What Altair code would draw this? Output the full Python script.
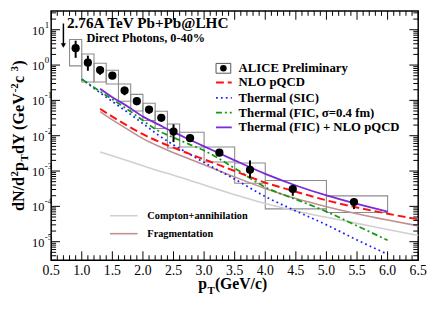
import altair as alt
import pandas as pd

# ---------------- data ----------------
alice_pt = [0.9, 1.1, 1.3, 1.5, 1.7, 1.9, 2.1, 2.3, 2.5, 2.77, 3.25, 3.75, 4.45, 5.45]
alice_y = [3.0, 1.17, 0.72, 0.50, 0.19, 0.095, 0.055, 0.032, 0.0131, 0.0085, 0.0033, 0.00108, 3.1e-4, 1.33e-4]
stat_lo = [1.6, 0.69, 0.53, 0.46, 0.14, 0.073, 0.042, 0.027, 0.0066, 0.0075, 0.0029, 0.00064, 2.0e-4, 8.4e-5]
stat_hi = [4.9, 1.85, 0.90, 0.55, 0.245, 0.12, 0.069, 0.037, 0.021, 0.0097, 0.0037, 0.0020, 4.1e-4, 1.7e-4]
bin_lo = [0.8, 1.0, 1.2, 1.4, 1.6, 1.8, 2.0, 2.2, 2.4, 2.6, 3.0, 3.5, 4.0, 5.0]
bin_hi = [1.0, 1.2, 1.4, 1.6, 1.8, 2.0, 2.2, 2.4, 2.6, 3.0, 3.5, 4.0, 5.0, 6.0]
sys_lo = [0.95, 0.33, 0.33, 0.29, 0.095, 0.05, 0.027, 0.016, 0.0045, 0.0048, 0.0018, 0.00045, 8.5e-5, 6.7e-5]
sys_hi = [5.3, 2.05, 1.12, 0.71, 0.29, 0.148, 0.083, 0.049, 0.0215, 0.0125, 0.0048, 0.00168, 5.4e-4, 1.98e-4]

purple_pt = [1.3, 1.5, 1.75, 2.0, 2.25, 2.5, 2.75, 3.0, 3.5, 4.0, 4.5, 5.0, 5.5, 6.0]
purple_y = [0.214, 0.123, 0.0676, 0.0347, 0.0209, 0.0126, 0.0079, 0.0050, 0.0020, 8.3e-4, 3.9e-4, 2.04e-4, 1.17e-4, 7.1e-5]

red_pt = [1.3, 1.5, 1.75, 2.0, 2.25, 2.5, 2.75, 3.0, 3.5, 4.0, 4.5, 5.0, 5.5, 6.0, 6.5]
red_y = [0.0575, 0.0347, 0.0191, 0.0110, 0.0069, 0.0046, 0.0031, 0.00214, 0.0010, 4.7e-4, 2.6e-4, 1.48e-4, 9.3e-5, 6.2e-5, 4.3e-5]

blue_pt = [1.0, 1.25, 1.5, 1.75, 2.0, 2.25, 2.5, 2.75, 3.0, 3.5, 4.0, 4.5, 5.0, 5.5, 6.0]
blue_y = [0.40, 0.19, 0.093, 0.046, 0.022, 0.0105, 0.0055, 0.0031, 0.00174, 5.9e-4, 1.9e-4, 7.4e-5, 3.0e-5, 1.12e-5, 4.4e-6]

green_pt = [1.0, 1.25, 1.5, 1.75, 2.0, 2.25, 2.5, 2.75, 3.0, 3.5, 4.0, 4.5, 5.0, 5.5, 6.0]
green_y = [0.40, 0.204, 0.107, 0.055, 0.0269, 0.0138, 0.0089, 0.0058, 0.0038, 0.0012, 3.5e-4, 1.58e-4, 7.1e-5, 2.8e-5, 1.1e-5]

brown_pt = [1.3, 1.5, 1.75, 2.0, 2.25, 2.5, 2.75, 3.0, 3.5, 4.0, 4.5, 5.0, 5.5, 6.0, 6.5]
brown_y = [0.048, 0.028, 0.0151, 0.0083, 0.0051, 0.0033, 0.00224, 0.00151, 6.8e-4, 3.2e-4, 1.66e-4, 9.8e-5, 6.2e-5, 4.1e-5, 2.8e-5]

gray_pt = [1.3, 1.5, 1.75, 2.0, 2.25, 2.5, 2.75, 3.0, 3.5, 4.0, 4.5, 5.0, 5.5, 6.0, 6.5]
gray_y = [0.00347, 0.00269, 0.00195, 0.00141, 0.00102, 7.6e-4, 5.6e-4, 4.0e-4, 2.14e-4, 1.2e-4, 7.4e-5, 4.9e-5, 3.3e-5, 2.2e-5, 1.5e-5]

arrow_pt = [0.7]
arrow_top = [15.0]
arrow_tip = [3.0]
arrow_head = [3.6]

x_tick_labels = ["0.5", "1.0", "1.5", "2.0", "2.5", "3.0", "3.5", "4.0", "4.5", "5.0", "5.5", "6.0", "6.5"]
y_decade_exp = [-5, -4, -3, -2, -1, 0, 1]

legend_labels = ["ALICE Preliminary", "NLO pQCD", "Thermal (SIC)",
                 "Thermal (FIC, \u03c3=0.4 fm)", "Thermal (FIC) + NLO pQCD"]
legend2_labels = ["Compton+annihilation", "Fragmentation"]

# ---------------- layout ----------------
W, H = 374, 254
YDOM = [3e-6, 34.1]
FONT = "Liberation Serif"
xs = alt.Scale(domain=[0.5, 6.5], nice=False, zero=False)
ys = alt.Scale(type="log", domain=YDOM, nice=False)


def X(f):
    return alt.X(f, type="quantitative", scale=xs, axis=None)


def Y(f):
    return alt.Y(f, type="quantitative", scale=ys, axis=None)


one = pd.DataFrame({"a": [0]})
layers = []


def ptext(txt, x, y, size, bold=False, align="left", baseline="alphabetic", angle=0, dx=0, dy=0):
    kw = dict(text=txt, fontSize=size, font=FONT, align=align, baseline=baseline,
              dx=dx, dy=dy, color="black")
    if bold:
        kw["fontWeight"] = "bold"
    if angle:
        kw["angle"] = angle
    return alt.Chart(one).mark_text(**kw).encode(x=alt.value(x), y=alt.value(y))


# systematic boxes
df_pts = pd.DataFrame({"pt": alice_pt, "y": alice_y, "lo": stat_lo, "hi": stat_hi,
                       "b0": bin_lo, "b1": bin_hi, "s0": sys_lo, "s1": sys_hi})
layers.append(alt.Chart(df_pts).mark_rect(fillOpacity=0, stroke="#8c8c8c", strokeWidth=1.1).encode(
    x=X("b0"), x2="b1", y=Y("s0"), y2="s1"))

# curves
curves = [
    (gray_pt, gray_y, "#d0d0d0", 1.6, None),
    (brown_pt, brown_y, "#bf9090", 1.6, None),
    (blue_pt, blue_y, "#2020ff", 1.8, [1.8, 3.2]),
    (green_pt, green_y, "#139a13", 1.8, [6, 3, 2, 3]),
    (red_pt, red_y, "#ff1010", 2.0, [8, 4]),
    (purple_pt, purple_y, "#7a2ad8", 1.8, None),
]
for cx, cy, col, sw, dash in curves:
    kw = dict(color=col, strokeWidth=sw, interpolate="monotone")
    if dash:
        kw["strokeDash"] = dash
    layers.append(alt.Chart(pd.DataFrame({"pt": cx, "v": cy})).mark_line(**kw).encode(
        x=X("pt"), y=Y("v")))

# stat error bars and points
layers.append(alt.Chart(df_pts).mark_rule(color="black", strokeWidth=2).encode(
    x=X("pt"), y=Y("lo"), y2="hi"))
layers.append(alt.Chart(df_pts).mark_point(filled=True, shape="circle", size=70,
                                           color="black", opacity=1).encode(x=X("pt"), y=Y("y")))

# arrow
df_arrow = pd.DataFrame({"pt": arrow_pt, "top": arrow_top, "tip": arrow_tip, "head": arrow_head})
layers.append(alt.Chart(df_arrow).mark_rule(color="black", strokeWidth=1.5).encode(
    x=X("pt"), y=Y("top"), y2="head"))
layers.append(alt.Chart(df_arrow).mark_point(filled=True, shape="triangle-down", size=28,
                                             color="black", opacity=1).encode(x=X("pt"), y=Y("head")))

# ticks (inward, on all four sides)
x_major = [float(s) for s in x_tick_labels]
x_minor = [round(a + 0.1 * k, 2) for a in x_major[:-1] for k in range(1, 5)]
y_major = [10.0 ** e for e in y_decade_exp]
y_minor = [k * 10.0 ** e for e in range(-6, 2) for k in range(2, 10)
           if YDOM[0] <= k * 10.0 ** e <= YDOM[1]]

for vals, ln in [(x_major, 9), (x_minor, 5)]:
    d = pd.DataFrame({"v": vals})
    layers.append(alt.Chart(d).mark_rule(color="black", strokeWidth=1).encode(
        x=X("v"), y=alt.value(H), y2=alt.value(H - ln)))
    layers.append(alt.Chart(d).mark_rule(color="black", strokeWidth=1).encode(
        x=X("v"), y=alt.value(0), y2=alt.value(ln)))
for vals, ln in [(y_major, 9), (y_minor, 5)]:
    d = pd.DataFrame({"v": vals})
    layers.append(alt.Chart(d).mark_rule(color="black", strokeWidth=1).encode(
        y=Y("v"), x=alt.value(0), x2=alt.value(ln)))
    layers.append(alt.Chart(d).mark_rule(color="black", strokeWidth=1).encode(
        y=Y("v"), x=alt.value(W - ln), x2=alt.value(W)))

# tick labels
df_xl = pd.DataFrame({"v": x_major, "t": x_tick_labels})
layers.append(alt.Chart(df_xl).mark_text(font=FONT, fontSize=14, baseline="middle", align="center",
                                         color="black").encode(x=X("v"), y=alt.value(H + 11), text="t:N"))
df_yl = pd.DataFrame({"v": y_major, "e": [str(e) for e in y_decade_exp], "b": ["10"] * len(y_major)})
layers.append(alt.Chart(df_yl).mark_text(font=FONT, fontSize=12.5, baseline="middle", align="right",
                                         dy=1, color="black").encode(x=alt.value(-7), y=Y("v"), text="b:N"))
layers.append(alt.Chart(df_yl).mark_text(font=FONT, fontSize=9, baseline="middle", align="left",
                                         dy=-5, color="black").encode(x=alt.value(-6.5), y=Y("v"), text="e:N"))

# axis titles built from pieces (super/subscripts)
WID = {'d': 556, 'N': 722, '/': 278, 'p': 556, 'T': 667, 'Y': 722, ' ': 250, '(': 333, 'G': 778,
       'e': 444, 'V': 722, 'c': 444, ')': 333, '2': 500, '-': 333, '3': 500}


def adv(txt, size):
    return sum(WID.get(ch, 500) for ch in txt) * size / 1000.0 + 0.3


def vpieces(parts, x, y):
    off = 0.0
    for txt, size, shift in parts:
        layers.append(ptext(txt, x, y, size, bold=True, angle=270, dx=off, dy=shift))
        off += adv(txt, size)


def hpieces(parts, x, y):
    off = 0.0
    for txt, size, shift in parts:
        layers.append(ptext(txt, x + off, y + shift, size, bold=True))
        off += adv(txt, size)


BIG, SML = 16.5, 11
vpieces([("dN/d", BIG, 0), ("2", SML, -6), ("p", BIG, 0), ("T", SML, 4), ("dY (GeV", BIG, 0),
         ("-2", SML, -6), (" c", BIG, 0), ("3", SML, -6), (")", BIG, 0)], -27.5, 204)
hpieces([("p", 16, 0), ("T", 11, 5), ("(GeV/c)", 16, 0)], 150, 283)

# annotations
layers.append(ptext("2.76A TeV Pb+Pb@LHC", 16, 17, 15.5, bold=True))
layers.append(ptext("Direct Photons, 0-40%", 36, 31.3, 12.5, bold=True))

# upper legend
leg_y = [58, 73, 88.7, 103.7, 118.7]
layers.append(alt.Chart(one).mark_rect(fillOpacity=0, stroke="#555555", strokeWidth=1).encode(
    x=alt.value(168), x2=alt.value(183), y=alt.value(53.5), y2=alt.value(63.5)))
layers.append(alt.Chart(one).mark_point(filled=True, shape="circle", size=45, color="black",
                                        opacity=1).encode(x=alt.value(175.5), y=alt.value(58.5)))
for (cx, cy, col, sw, dash), yy in zip([curves[4], curves[2], curves[3], curves[5]], leg_y[1:]):
    kw = dict(color=col, strokeWidth=sw)
    if dash:
        kw["strokeDash"] = dash
    layers.append(alt.Chart(one).mark_rule(**kw).encode(
        x=alt.value(168), x2=alt.value(184), y=alt.value(yy)))
for lab, yy in zip(legend_labels, leg_y):
    layers.append(ptext(lab, 191, yy, 13, bold=True, baseline="middle"))

# lower legend
for (cx, cy, col, sw, dash), lab, yy in zip(curves[:2], legend2_labels, [208.7, 227]):
    layers.append(alt.Chart(one).mark_rule(color=col, strokeWidth=sw).encode(
        x=alt.value(60), x2=alt.value(88), y=alt.value(yy)))
    layers.append(ptext(lab, 98, yy + 0.5, 10.5, bold=True, baseline="middle"))

chart = alt.layer(*layers).properties(
    width=W, height=H,
    autosize=alt.AutoSizeParams(type="none"),
    padding={"left": 44, "top": 0, "right": 10, "bottom": 57},
).configure_view(stroke="black", strokeWidth=1.5)

chart.save("out.html", embed_options={"renderer": "svg", "actions": False})
